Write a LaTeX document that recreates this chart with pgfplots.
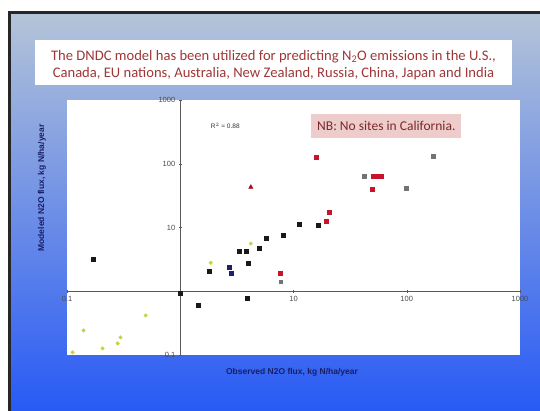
\documentclass[border=0pt]{standalone}
\usepackage{pgfplots}
\pgfplotsset{compat=1.18}
\usepackage{fontspec}
\setmainfont{Carlito}
\newfontfamily\arial{Liberation Sans}
\definecolor{slidetop}{RGB}{180,196,216}
\definecolor{slidemid}{RGB}{140,166,228}
\definecolor{slidebot}{RGB}{40,90,245}
\definecolor{titlered}{RGB}{160,55,55}
\definecolor{nbpink}{RGB}{238,204,204}
\definecolor{ptred}{RGB}{200,20,40}
\definecolor{ptnavy}{RGB}{30,30,110}
\definecolor{ptyellow}{RGB}{200,210,70}
\definecolor{labnavy}{RGB}{25,30,100}
\begin{document}
\begin{tikzpicture}[x=1pt,y=1pt]
\useasboundingbox (0,0) rectangle (540,410);
\clip (0,0) rectangle (540,410);
\fill[white] (0,0) rectangle (540,410);
\shade[top color=slidetop, middle color=slidemid, bottom color=slidebot] (9,0) rectangle (560,397);
\draw[line width=2.5pt, black!85] (9.5,-5) -- (9.5,397.5) -- (560,397.5);
% title box
\fill[white] (35,325) rectangle (512,370);
\node[text=titlered, font=\fontsize{14.6}{17.5}\selectfont, align=center] at (273.5,345)
 {The DNDC model has been utilized for predicting N\textsubscript{2}O emissions in the U.S.,\\
  Canada, EU nations, Australia, New Zealand, Russia, China, Japan and India};
\begin{axis}[at={(67pt,55pt)}, anchor=south west, scale only axis,
  width=453pt, height=255pt,
  xmode=log, ymode=log, xmin=0.1, xmax=1000, ymin=0.1, ymax=1000,
  axis lines=middle,
  axis line style={black!65, line width=0.6pt, -},
  every inner x axis line/.append style={-},
  every inner y axis line/.append style={-},
  axis background/.style={fill=white},
  xtick={0.1,1,10,100,1000}, xticklabels={0.1,1,10,100,1000},
  ytick={0.1,1,10,100,1000}, yticklabels={0.1,1,10,100,1000},
  minor tick num=0, minor tick style={draw=none},
  tick style={black!65, line width=0.5pt},
  major tick length=3pt,
  ticklabel style={font=\arial\fontsize{7.5}{8}\selectfont, text=black!70},
  /pgf/number format/assume math mode=true,
  clip=false]
% black sites
\addplot[only marks, mark=square*, mark size=2pt, black!90] coordinates {
 (0.172,3.24) (1.79,2.1) (3.96,2.8) (3.8,4.3) (3.3,4.2) (4.95,4.8)
 (5.7,6.9) (8.1,7.7) (11.2,11.4) (16.5,11.0) (1.0,0.92) (1.43,0.6) (3.9,0.77)
};
% navy sites
\addplot[only marks, mark=square*, mark size=2pt, ptnavy] coordinates {
 (2.69,2.35) (2.8,1.89)
};
% red sites
\addplot[only marks, mark=square*, mark size=2pt, ptred] coordinates {
 (19.4,12.7) (20.6,17.6) (7.6,1.89) (15.8,126) (50.6,64) (54.8,64) (59.5,64) (49.5,40)
};
\addplot[only marks, mark=triangle*, mark size=2.5pt, ptred!80!black] coordinates {
 (4.2,43)
};
% gray sites
\addplot[only marks, mark=square*, mark size=1.8pt, black!55] coordinates {
 (7.7,1.42) (42,64) (99,41.7) (172,132)
};
% yellow-green sites
\addplot[only marks, mark=*, mark size=1.8pt, ptyellow] coordinates {
 (0.495,0.417) (0.14,0.243) (0.297,0.189) (0.206,0.127) (0.28,0.152) (0.112,0.11)
 (1.86,2.8) (4.2,5.6)
};
\node[font=\arial\fontsize{6.5}{7}\selectfont, text=black!80] at (axis cs:2.5,390) {R$^2$ = 0.88};
\node[fill=nbpink, text=titlered!75!black, font=\fontsize{13.5}{15}\selectfont, inner xsep=6pt, minimum height=24pt]
  at (axis cs:66,390) {NB: No sites in California.};
\end{axis}
\node[font=\arial\bfseries\fontsize{8.5}{10}\selectfont, text=labnavy] at (292,38) {Observed N2O flux, kg N/ha/year};
\node[font=\arial\bfseries\fontsize{8.5}{10}\selectfont, text=labnavy, rotate=90] at (42,222) {Modeled N2O flux, kg N/ha/year};
\end{tikzpicture}
\end{document}
